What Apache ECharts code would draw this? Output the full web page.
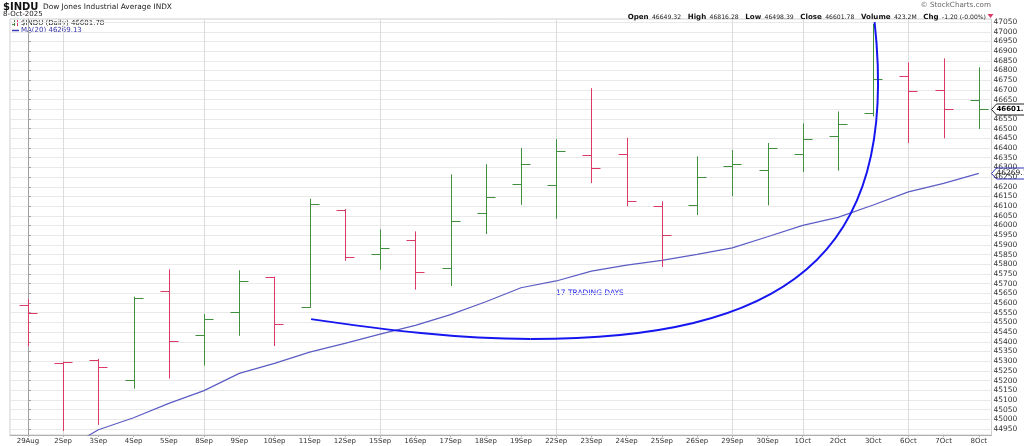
<!DOCTYPE html>
<html>
<head>
<meta charset="utf-8">
<script src="https://cdn.jsdelivr.net/npm/echarts@6/dist/echarts.min.js"></script>
<style>
html,body{margin:0;padding:0;background:#fff;}
#c{width:1024px;height:446px;}
</style>
</head>
<body>
<div id="c"></div>
<script>
// ---- data ----
var dates = ['29Aug','2Sep','3Sep','4Sep','5Sep','8Sep','9Sep','10Sep','11Sep','12Sep','15Sep','16Sep','17Sep','18Sep','19Sep','22Sep','23Sep','24Sep','25Sep','26Sep','29Sep','30Sep','1Oct','2Oct','3Oct','6Oct','7Oct','8Oct'];
var opens  = [45591,45290,45308,45203,45660,45433,45552,45733,45578,46082,45851,45924,45779,46063,46212,46211,46365,46367,46102,46104,46309,46285,46367,46460,46582,46770,46698,46649.32];
var highs  = [45621,45298,45312,45633,45774,45543,45769,45736,46138,46085,45980,45970,46264,46317,46400,46446,46709,46453,46125,46357,46390,46426,46527,46589,47040,46842,46863,46816.28];
var lows   = [45378,44940,44971,45158,45210,45277,45431,45378,45576,45818,45772,45669,45688,45956,46107,46035,46219,46099,45786,46054,46152,46104,46276,46283,46563,46426,46450,46498.39];
var closes = [45547,45295,45270,45624,45402,45516,45712,45493,46113,45837,45885,45760,46022,46145,46317,46383,46295,46125,45949,46250,46317,46398,46445,46522,46754,46692,46601,46601.78];
var ma20   = [44780,44840,44946,45008,45082,45148,45237,45289,45347,45392,45440,45485,45540,45607,45679,45714,45765,45796,45820,45851,45885,45942,46001,46042,46106,46174,46218,46269.13];
// hand-drawn annotation: two cubic Bezier segments, control points in (bar index, index value)
var curveCtrlX = [8.04, 10.12, 12.19, 14.27, 21.37, 24.78, 24.04];
var curveCtrlY = [45517, 45462, 45414, 45414, 45414, 45822, 47050];
var yTicks = [];
for (var t = 44950; t <= 47050; t += 50) yTicks.push(t);
var weekLines = [1,5,10,15,20,22,25];
var annotation = '17 TRADING DAYS';

var RED = '#dc3a66', GREEN = '#3f8f3f', FONT = 'DejaVu Sans';

var ohlcData = dates.map(function(d,i){ return [i, opens[i], highs[i], lows[i], closes[i]]; });
var maData = ma20.map(function(v,i){ return [i, v]; });

var chart = echarts.init(document.getElementById('c'), null, {renderer:'canvas'});

function renderOHLC(params, api){
  var i = api.value(0);
  var o = api.value(1), h = api.value(2), l = api.value(3), c = api.value(4);
  var ref = i > 0 ? closes[i-1] : o;
  var col = c >= ref ? GREEN : RED;
  var pH = api.coord([i,h]), pL = api.coord([i,l]), pO = api.coord([i,o]), pC = api.coord([i,c]);
  var x = Math.round(pH[0]) + 0.5;
  var yo = Math.round(pO[1]) + 0.5, yc = Math.round(pC[1]) + 0.5;
  var st = {stroke: col, lineWidth: 1};
  return {type:'group', children:[
    {type:'line', shape:{x1:x, y1:pH[1], x2:x, y2:pL[1]}, style:st},
    {type:'line', shape:{x1:x-9, y1:yo, x2:x, y2:yo}, style:st},
    {type:'line', shape:{x1:x, y1:yc, x2:x+9, y2:yc}, style:st}
  ]};
}

function renderVGrid(params, api){
  var cs = params.coordSys;
  var p = api.coord([api.value(0), 46000]);
  var x = Math.round(p[0]) + 0.5;
  return {type:'line', shape:{x1:x, y1:cs.y, x2:x, y2:cs.y + cs.height},
    style:{stroke:'#dcdcdc', lineWidth:1}};
}

function renderCurve(params, api){
  var P = curveCtrlX.map(function(x,i){ return api.coord([x, curveCtrlY[i]]); });
  var st = {stroke:'#1616f0', lineWidth:2, fill:'none'};
  return {type:'group', children:[
    {type:'bezierCurve', shape:{x1:P[0][0], y1:P[0][1], cpx1:P[1][0], cpy1:P[1][1], cpx2:P[2][0], cpy2:P[2][1], x2:P[3][0], y2:P[3][1]}, style:st},
    {type:'bezierCurve', shape:{x1:P[3][0], y1:P[3][1], cpx1:P[4][0], cpy1:P[4][1], cpx2:P[5][0], cpy2:P[5][1], x2:P[6][0], y2:P[6][1]}, style:st}
  ]};
}

function renderTag(params, api){
  var v = api.value(1);
  var kind = api.value(2);
  var p = api.coord([27.36, v]);
  var x = p[0], y = Math.round(p[1]) + 0.5;
  var col = kind === 0 ? '#222' : '#2e2eb8';
  return {type:'group', children:[
    {type:'polygon', shape:{points:[[x,y],[x+5,y-5.5],[x+45,y-5.5],[x+45,y+5.5],[x+5,y+5.5]]},
     style:{fill: kind === 0 ? '#fff' : 'rgba(255,255,255,0)', stroke: col, lineWidth:1}},
    {type:'text', style:{x:x+5, y:y, text: kind === 0 ? closes[27].toFixed(2) : ma20[27].toFixed(2),
      fill: kind === 0 ? '#000' : '#222', font: (kind === 0 ? 'bold 7px ' : '7.5px ') + FONT, verticalAlign:'middle', align:'left'}}
  ]};
}

var option = {
  animation:false,
  backgroundColor:'#fff',
  grid:{left:10, right:32.5, top:19, bottom:11, show:true, borderColor:'#cfcfcf', borderWidth:1, containLabel:false},
  xAxis:{
    type:'value', min:-0.51, max:27.36,
    axisLine:{show:true, lineStyle:{color:'#b0b0b0'}},
    axisTick:{show:true, length:2, lineStyle:{color:'#b0b0b0'}, customValues: dates.map(function(d,i){return i;})},
    axisLabel:{show:true, fontSize:7, fontFamily:FONT, color:'#333', margin:3,
      customValues: dates.map(function(d,i){return i;}),
      formatter:function(v){ return dates[Math.round(v)] || ''; }},
    splitLine:{show:false}
  },
  yAxis:{
    type:'value', position:'right', min:44919, max:47066, scale:true,
    axisLine:{show:true, lineStyle:{color:'#a0a0a0'}},
    axisTick:{show:true, length:3, lineStyle:{color:'#a0a0a0'}, customValues: yTicks},
    axisLabel:{show:true, fontSize:7.5, fontFamily:FONT, color:'#333', margin:2, customValues: yTicks,
      formatter:function(v){ return String(v); }},
    splitLine:{show:true, lineStyle:{color:'#e9e9e9', width:1}}
  },
  series:[
    {type:'custom', name:'vgrid', data:weekLines.map(function(i){return [i];}), renderItem:renderVGrid,
     z:1, silent:true, encode:{x:0}},
    {type:'line', name:'MA(20)', data:maData, symbol:'none', smooth:false,
     lineStyle:{color:'#5c5cc4', width:1.2}, z:3},
    {type:'custom', name:'$INDU', data:ohlcData, renderItem:renderOHLC, z:4,
     encode:{x:0, y:[1,2,3,4]}},
    {type:'custom', name:'curve', data:[[curveCtrlX[0], curveCtrlY[0]]], renderItem:renderCurve, z:5,
     silent:true, encode:{x:0, y:1}},
    {type:'custom', name:'tags', data:[[27, closes[27], 0],[27, ma20[27], 1]], renderItem:renderTag,
     clip:false, z:10, encode:{x:0, y:1}}
  ],
  graphic:[
    {type:'text', left:3, top:2, style:{text:'$INDU', font:'bold 10px '+FONT, fill:'#111'}},
    {type:'text', left:43, top:4, style:{text:'Dow Jones Industrial Average INDX', font:'7.4px '+FONT, fill:'#222'}},
    {type:'text', left:3, top:11, style:{text:'8-Oct-2025', font:'7px '+FONT, fill:'#222'}},
    {type:'text', right:33, top:2, style:{text:'© StockCharts.com', font:'7.2px '+FONT, fill:'#666'}},
    {type:'text', right:38, top:11, style:{
      rich:{b:{font:'bold 7.1px '+FONT, fill:'#111'}, n:{font:'6.1px '+FONT, fill:'#222'}},
      text:'{b|Open} {n|46649.32}  {b|High} {n|46816.28}  {b|Low} {n|46498.39}  {b|Close} {n|46601.78}  {b|Volume} {n|423.2M}  {b|Chg} {n|-1.20 (-0.00%)}'}},
    {type:'polygon', shape:{points:[[987.5,14],[993.5,14],[990.5,18]]}, style:{fill:RED}},
    // small OHLC glyph in legend
    {type:'line', shape:{x1:14.5,y1:20,x2:14.5,y2:26}, style:{stroke:GREEN,lineWidth:1}},
    {type:'line', shape:{x1:12,y1:24.5,x2:14.5,y2:24.5}, style:{stroke:GREEN,lineWidth:1}},
    {type:'line', shape:{x1:17.5,y1:20,x2:17.5,y2:26}, style:{stroke:RED,lineWidth:1}},
    {type:'line', shape:{x1:17.5,y1:22.5,x2:20,y2:22.5}, style:{stroke:RED,lineWidth:1}},
    {type:'text', left:21, top:20, style:{text:'$INDU (Daily) 46601.78', font:'7px '+FONT, fill:'#222'}},
    {type:'line', shape:{x1:12,y1:30.5,x2:19,y2:30.5}, style:{stroke:'#3c3cb4',lineWidth:1.5}},
    {type:'text', left:21, top:26.5, style:{text:'MA(20) 46269.13', font:'7px '+FONT, fill:'#3434a8'}},
    {type:'text', left:556, top:289, style:{text:annotation, font:'7.5px '+FONT, fill:'#2a2af0'}}
  ]
};
chart.setOption(option);
</script>
</body>
</html>
